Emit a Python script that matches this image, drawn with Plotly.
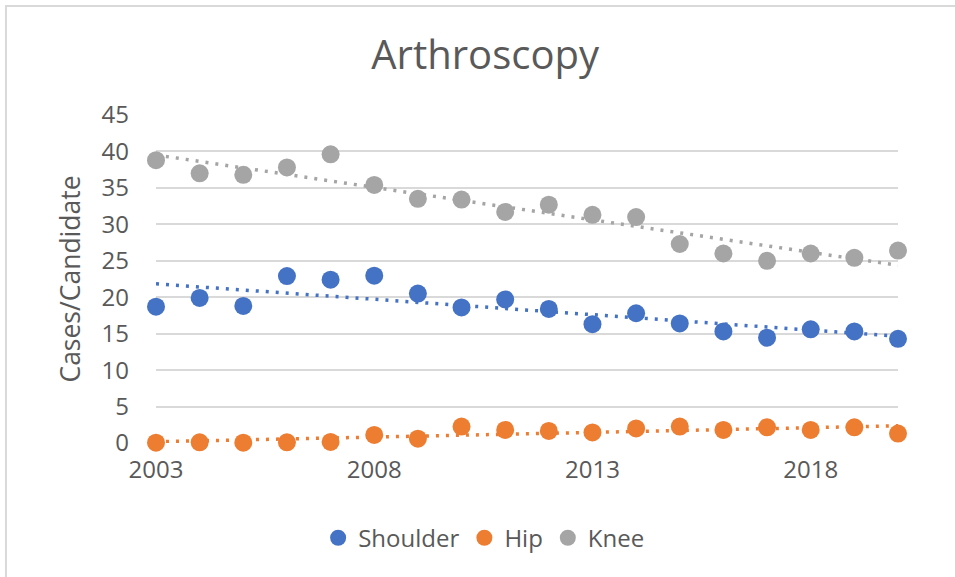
import numpy as np
import plotly.graph_objects as go

years = list(range(2003, 2021))
shoulder = [18.7, 19.9, 18.8, 22.9, 22.4, 22.95, 20.5, 18.6, 19.7, 18.4, 16.3, 17.8, 16.4, 15.3, 14.45, 15.6, 15.3, 14.3]
hip = [0.05, 0.1, 0.05, 0.1, 0.15, 1.1, 0.6, 2.25, 1.8, 1.65, 1.45, 2.0, 2.25, 1.8, 2.15, 1.8, 2.15, 1.3]
knee = [38.8, 37.0, 36.8, 37.8, 39.6, 35.4, 33.5, 33.4, 31.7, 32.7, 31.3, 31.0, 27.3, 26.0, 25.0, 26.0, 25.4, 26.4]
x_ticks = [2003, 2008, 2013, 2018]
y_ticks = list(range(0, 46, 5))

series = [("Shoulder", shoulder, "#4472C4"), ("Hip", hip, "#ED7D31"), ("Knee", knee, "#A5A5A5")]

FONT = "Open Sans"
TXT = "#595959"

fig = go.Figure()
x = np.array(years, dtype=float)
for name, vals, col in series:
    slope, icpt = np.polyfit(x, np.array(vals), 1)
    fig.add_trace(go.Scatter(x=years, y=list(slope * x + icpt), mode="lines",
                             line=dict(color=col, width=3.5, dash="3px,7px"),
                             showlegend=False, hoverinfo="skip", cliponaxis=False))
for name, vals, col in series:
    fig.add_trace(go.Scatter(x=years, y=vals, mode="markers", name=name,
                             marker=dict(color=col, size=18), cliponaxis=False))

fig.update_layout(
    width=955, height=577,
    margin=dict(l=156, r=57, t=115, b=134, autoexpand=False),
    paper_bgcolor="white", plot_bgcolor="white",
    font=dict(family=FONT, color=TXT),
    title=dict(text="Arthroscopy", x=0.508, xanchor="center", y=0.905, yanchor="middle",
               font=dict(size=40, color=TXT, family=FONT)),
    xaxis=dict(range=[2003, 2020], tickvals=x_ticks, showgrid=False, zeroline=False, automargin=False,
               showline=False, ticks="", ticklabelstandoff=10, tickfont=dict(size=24, color=TXT)),
    yaxis=dict(range=[0, 45], tickvals=y_ticks, showgrid=True, gridcolor="#D9D9D9", gridwidth=1.5,
               zeroline=False, showline=False, ticks="", ticklabelstandoff=26, automargin=False,
               tickfont=dict(size=24, color=TXT),
               title=dict(text="Cases/Candidate", font=dict(size=26.5, color=TXT), standoff=13)),
    legend=dict(orientation="h", x=0.2185, xanchor="left", y=-0.29, yanchor="middle",
                font=dict(size=24, color=TXT), itemsizing="trace", tracegroupgap=0),
    shapes=[dict(type="rect", xref="paper", yref="paper", x0=-0.2022, x1=1.2, y0=-0.6, y1=1.332,
                 line=dict(color="#D9D9D9", width=2), fillcolor="rgba(0,0,0,0)", layer="below")],
)

fig.write_html("out.html", config={"displayModeBar": False},
               post_script="document.body.style.margin='0';")
